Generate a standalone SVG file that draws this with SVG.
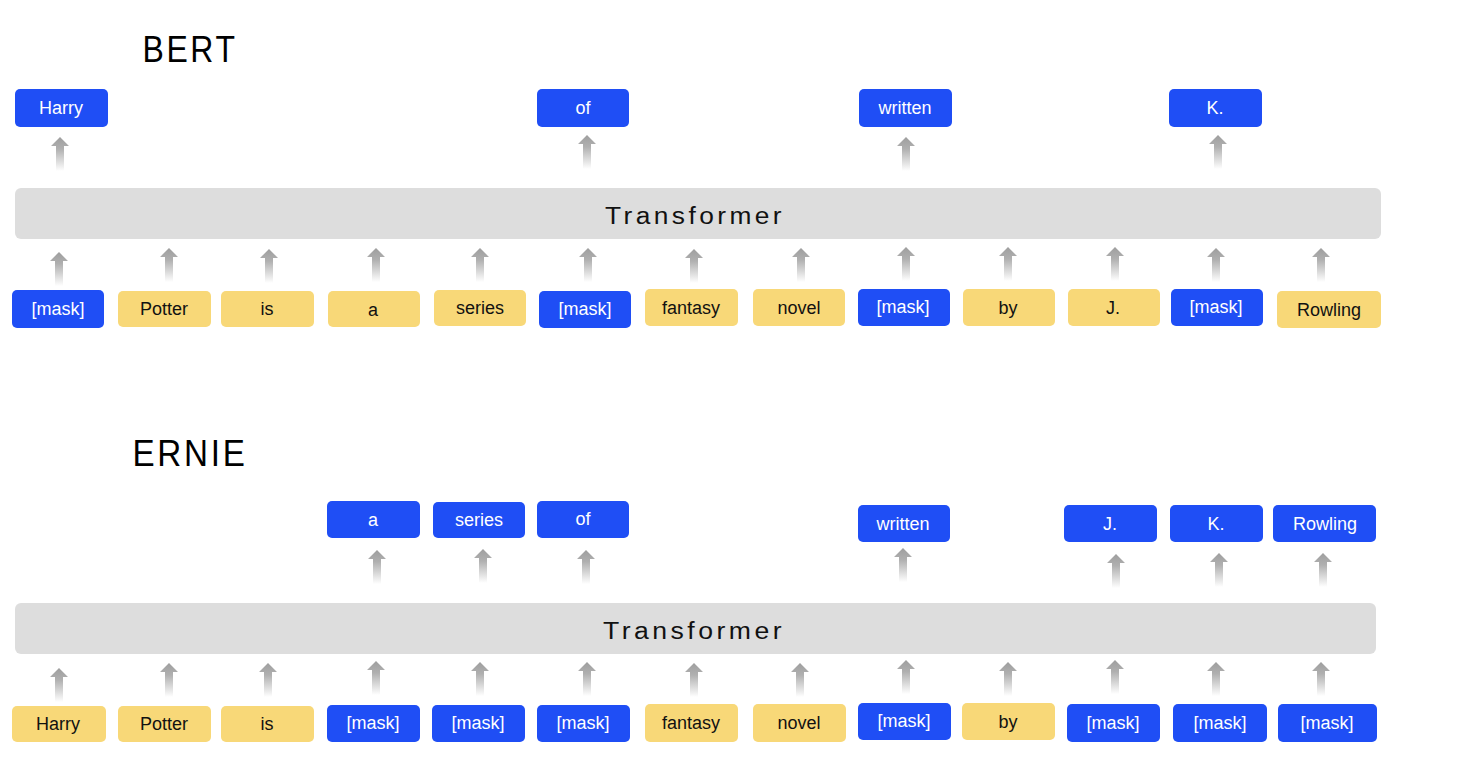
<svg xmlns="http://www.w3.org/2000/svg" xmlns:xlink="http://www.w3.org/1999/xlink" width="1458" height="770" viewBox="0 0 1458 770">
<style>
.b{fill:#1f4ef5}
.y{fill:#f8d878}
.bar{fill:#dddddd}
text{font-family:"Liberation Sans",Arial,sans-serif;text-anchor:middle}
.tw{fill:#ffffff;font-size:18px}
.tk{fill:#111111;font-size:18px}
.title{fill:#000000;font-size:37px;letter-spacing:3px}
.tf{fill:#111111;font-size:23px;letter-spacing:3px}
</style>
<defs>
<linearGradient id="g" x1="0" y1="0" x2="0" y2="1">
<stop offset="0" stop-color="#9e9e9e"/>
<stop offset="0.35" stop-color="#b0b0b0"/>
<stop offset="1" stop-color="#ffffff"/>
</linearGradient>
<path id="arr" d="M0,0 L9,9 L4,9 L4,34 L-4,34 L-4,9 L-9,9 Z" fill="url(#g)"/>
</defs>

<text class="title" x="190" y="62" textLength="95" lengthAdjust="spacingAndGlyphs">BERT</text>
<text class="title" x="190" y="466" textLength="115" lengthAdjust="spacingAndGlyphs">ERNIE</text>

<g id="connectors">
<use href="#arr" x="60" y="137"/>
<use href="#arr" x="587" y="135"/>
<use href="#arr" x="906" y="137"/>
<use href="#arr" x="1218" y="135"/>
<use href="#arr" x="59" y="252"/>
<use href="#arr" x="169" y="248"/>
<use href="#arr" x="269" y="249"/>
<use href="#arr" x="376" y="248"/>
<use href="#arr" x="480" y="248"/>
<use href="#arr" x="588" y="248"/>
<use href="#arr" x="694" y="249"/>
<use href="#arr" x="801" y="248"/>
<use href="#arr" x="906" y="247"/>
<use href="#arr" x="1008" y="247"/>
<use href="#arr" x="1115" y="247"/>
<use href="#arr" x="1216" y="248"/>
<use href="#arr" x="1321" y="248"/>
<use href="#arr" x="377" y="550"/>
<use href="#arr" x="483" y="549"/>
<use href="#arr" x="586" y="550"/>
<use href="#arr" x="903" y="548"/>
<use href="#arr" x="1116" y="554"/>
<use href="#arr" x="1219" y="553"/>
<use href="#arr" x="1323" y="553"/>
<use href="#arr" x="59" y="668"/>
<use href="#arr" x="169" y="663"/>
<use href="#arr" x="268" y="663"/>
<use href="#arr" x="376" y="661"/>
<use href="#arr" x="480" y="662"/>
<use href="#arr" x="587" y="662"/>
<use href="#arr" x="694" y="663"/>
<use href="#arr" x="800" y="663"/>
<use href="#arr" x="906" y="660"/>
<use href="#arr" x="1008" y="662"/>
<use href="#arr" x="1115" y="660"/>
<use href="#arr" x="1216" y="662"/>
<use href="#arr" x="1321" y="662"/>
</g>

<g id="bert-transformer"><rect class="bar" x="15" y="188" width="1366" height="51" rx="6"/><text class="tf" x="695" y="224" textLength="180" lengthAdjust="spacingAndGlyphs">Transformer</text></g>

<g id="bert-out-harry"><rect class="b" x="15" y="89" width="93" height="38" rx="5"/><text class="tw" x="61" y="114">Harry</text></g>
<g id="bert-out-of"><rect class="b" x="537" y="89" width="92" height="38" rx="5"/><text class="tw" x="583" y="114">of</text></g>
<g id="bert-out-written"><rect class="b" x="859" y="89" width="93" height="38" rx="5"/><text class="tw" x="905" y="114">written</text></g>
<g id="bert-out-k"><rect class="b" x="1169" y="89" width="93" height="38" rx="5"/><text class="tw" x="1215" y="114">K.</text></g>

<g id="bert-in-1"><rect class="b" x="12" y="290" width="92" height="38" rx="5"/><text class="tw" x="58" y="315">[mask]</text></g>
<g id="bert-in-2"><rect class="y" x="118" y="291" width="93" height="36" rx="5"/><text class="tk" x="164" y="315">Potter</text></g>
<g id="bert-in-3"><rect class="y" x="221" y="291" width="93" height="36" rx="5"/><text class="tk" x="267" y="315">is</text></g>
<g id="bert-in-4"><rect class="y" x="328" y="291" width="92" height="36" rx="5"/><text class="tk" x="373" y="316">a</text></g>
<g id="bert-in-5"><rect class="y" x="434" y="290" width="92" height="36" rx="5"/><text class="tk" x="480" y="314">series</text></g>
<g id="bert-in-6"><rect class="b" x="539" y="291" width="92" height="37" rx="5"/><text class="tw" x="585" y="315">[mask]</text></g>
<g id="bert-in-7"><rect class="y" x="645" y="289" width="93" height="37" rx="5"/><text class="tk" x="691" y="314">fantasy</text></g>
<g id="bert-in-8"><rect class="y" x="753" y="289" width="92" height="37" rx="5"/><text class="tk" x="799" y="314">novel</text></g>
<g id="bert-in-9"><rect class="b" x="858" y="289" width="92" height="37" rx="5"/><text class="tw" x="903" y="313">[mask]</text></g>
<g id="bert-in-10"><rect class="y" x="963" y="289" width="92" height="37" rx="5"/><text class="tk" x="1008" y="314">by</text></g>
<g id="bert-in-11"><rect class="y" x="1068" y="289" width="92" height="37" rx="5"/><text class="tk" x="1113" y="314">J.</text></g>
<g id="bert-in-12"><rect class="b" x="1171" y="289" width="92" height="37" rx="5"/><text class="tw" x="1216" y="313">[mask]</text></g>
<g id="bert-in-13"><rect class="y" x="1277" y="291" width="104" height="37" rx="5"/><text class="tk" x="1329" y="316">Rowling</text></g>

<g id="ernie-transformer"><rect class="bar" x="15" y="603" width="1361" height="51" rx="6"/><text class="tf" x="694" y="639" textLength="182" lengthAdjust="spacingAndGlyphs">Transformer</text></g>

<g id="ernie-out-a"><rect class="b" x="327" y="501" width="93" height="37" rx="5"/><text class="tw" x="373" y="526">a</text></g>
<g id="ernie-out-series"><rect class="b" x="433" y="502" width="92" height="36" rx="5"/><text class="tw" x="479" y="526">series</text></g>
<g id="ernie-out-of"><rect class="b" x="537" y="501" width="92" height="37" rx="5"/><text class="tw" x="583" y="525">of</text></g>
<g id="ernie-out-written"><rect class="b" x="858" y="505" width="92" height="37" rx="5"/><text class="tw" x="903" y="530">written</text></g>
<g id="ernie-out-j"><rect class="b" x="1064" y="505" width="93" height="37" rx="5"/><text class="tw" x="1110" y="530">J.</text></g>
<g id="ernie-out-k"><rect class="b" x="1170" y="505" width="93" height="37" rx="5"/><text class="tw" x="1216" y="530">K.</text></g>
<g id="ernie-out-rowling"><rect class="b" x="1273" y="505" width="103" height="37" rx="5"/><text class="tw" x="1325" y="530">Rowling</text></g>

<g id="ernie-in-1"><rect class="y" x="12" y="706" width="94" height="36" rx="5"/><text class="tk" x="58" y="730">Harry</text></g>
<g id="ernie-in-2"><rect class="y" x="118" y="706" width="93" height="36" rx="5"/><text class="tk" x="164" y="730">Potter</text></g>
<g id="ernie-in-3"><rect class="y" x="221" y="706" width="93" height="36" rx="5"/><text class="tk" x="267" y="730">is</text></g>
<g id="ernie-in-4"><rect class="b" x="327" y="705" width="93" height="37" rx="5"/><text class="tw" x="373" y="729">[mask]</text></g>
<g id="ernie-in-5"><rect class="b" x="432" y="705" width="93" height="37" rx="5"/><text class="tw" x="478" y="729">[mask]</text></g>
<g id="ernie-in-6"><rect class="b" x="537" y="705" width="93" height="37" rx="5"/><text class="tw" x="583" y="729">[mask]</text></g>
<g id="ernie-in-7"><rect class="y" x="645" y="704" width="93" height="38" rx="5"/><text class="tk" x="691" y="729">fantasy</text></g>
<g id="ernie-in-8"><rect class="y" x="753" y="704" width="93" height="38" rx="5"/><text class="tk" x="799" y="729">novel</text></g>
<g id="ernie-in-9"><rect class="b" x="858" y="703" width="93" height="37" rx="5"/><text class="tw" x="904" y="727">[mask]</text></g>
<g id="ernie-in-10"><rect class="y" x="962" y="703" width="93" height="37" rx="5"/><text class="tk" x="1008" y="728">by</text></g>
<g id="ernie-in-11"><rect class="b" x="1067" y="704" width="93" height="38" rx="5"/><text class="tw" x="1113" y="729">[mask]</text></g>
<g id="ernie-in-12"><rect class="b" x="1173" y="704" width="94" height="38" rx="5"/><text class="tw" x="1220" y="729">[mask]</text></g>
<g id="ernie-in-13"><rect class="b" x="1278" y="704" width="99" height="38" rx="5"/><text class="tw" x="1327" y="729">[mask]</text></g>
</svg>
